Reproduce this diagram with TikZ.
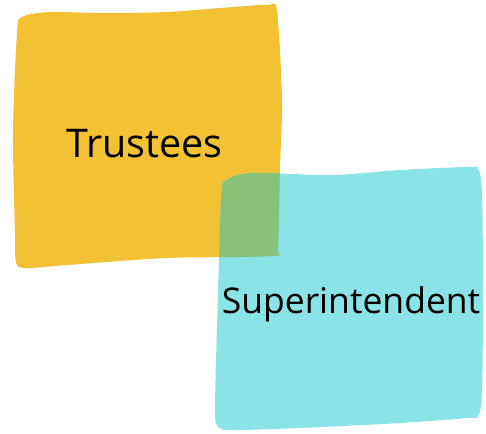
\documentclass[tikz,border=0pt]{standalone}
\usepackage{fontspec}
\setmainfont{Open Sans}
\definecolor{yel}{HTML}{F2C134}
\definecolor{cya}{HTML}{8AE3E7}
\definecolor{grn}{HTML}{87C17A}
\begin{document}
\begin{tikzpicture}[x=1pt,y=-1pt,
  lbl/.style={inner sep=0pt,anchor=base,text=black}]
\useasboundingbox (0,0) rectangle (486,433);
\def\ypath{plot[smooth cycle,tension=0.5] coordinates {(22,17) (50,12) (100,13) (167,12) (233,7) (268,5) (277,11) (282,100) (280,167) (278,247) (272,256) (167,258) (67,265) (25,268) (16,262) (15,233) (13,133) (17,33)}}
\def\cpath{plot[smooth cycle,tension=0.5] coordinates {(227,180) (250,173) (333,175) (400,170) (467,167) (478,169) (482,193) (483,293) (482,393) (478,416) (467,418) (400,423) (300,428) (233,430) (218,427) (215,410) (217,327) (220,227) (222,186)}}
\fill[yel] \ypath;
\fill[cya] \cpath;
\begin{scope}
\clip \ypath;
\fill[grn] \cpath;
\end{scope}
\node[lbl,font=\fontsize{39.5}{41}\selectfont] (t) at (144.5,157) {Trustees};
\node[lbl,font=\fontsize{35.5}{37}\selectfont] (s) at (351,313) {Superintendent};
\end{tikzpicture}
\end{document}
